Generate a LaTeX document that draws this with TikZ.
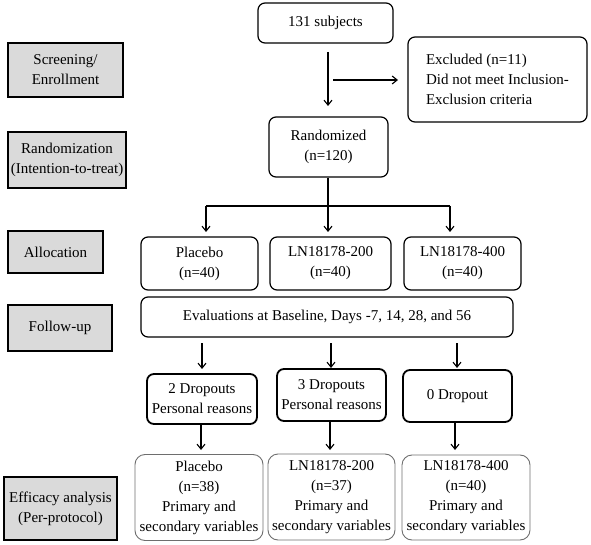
\documentclass[tikz,border=0pt]{standalone}
\usepackage{fontspec}
\setmainfont{Liberation Serif}
\usetikzlibrary{arrows.meta}
\definecolor{phasegray}{HTML}{DADADA}
\definecolor{effgray}{HTML}{6E6E6E}
\begin{document}
\begin{tikzpicture}[x=1pt,y=-1pt,
  font=\fontsize{15}{20}\selectfont,
  phase/.style={draw=black, line width=1.2pt, fill=phasegray, inner sep=0pt, align=center},
  box/.style={draw=black, rounded corners=7pt, line width=1.2pt, inner sep=0pt, align=center},
  dbox/.style={box, line width=1.8pt},
  ebox/.style={draw=effgray, rounded corners=10pt, line width=0.9pt, inner sep=0pt, align=center},
  arr/.style={-{Straight Barb[length=5pt,width=8pt]}, line width=1.1pt},
  ln/.style={line width=1.1pt}]
\useasboundingbox (0,0) rectangle (591,545);

% phase labels
\node[phase, minimum width=115pt, minimum height=54pt] (scr) at (65.5,70) {Screening/\\Enrollment};
\node[phase, minimum width=118pt, minimum height=56pt] (rphase) at (67,160) {Randomization\\(Intention-to-treat)};
\node[phase, minimum width=95pt, minimum height=42pt] (alloc) at (55.5,252) {Allocation};
\node[phase, minimum width=104pt, minimum height=46pt] (fu) at (60,328) {Follow-up};
\node[phase, minimum width=113pt, minimum height=63pt] (eff) at (60.5,508.5) {Efficacy analysis\\(Per-protocol)};

% flow boxes
\node[box, minimum width=135pt, minimum height=40pt] (s131) at (325.5,23) {131 subjects};
\node[box, minimum width=179pt, minimum height=85pt, align=left] (excl) at (497.5,79.5) {Excluded (n=11)\\Did not meet Inclusion-\\Exclusion criteria};
\node[box, minimum width=119pt, minimum height=60pt] (rnd) at (328.5,147) {Randomized\\(n=120)};

\node[box, minimum width=117pt, minimum height=53pt] (pl) at (199.5,263.5) {Placebo\\(n=40)};
\node[box, minimum width=121pt, minimum height=53pt] (l200) at (330.5,263.5) {LN18178-200\\(n=40)};
\node[box, minimum width=117pt, minimum height=53pt] (l400) at (462.5,263.5) {LN18178-400\\(n=40)};

\node[box, minimum width=372pt, minimum height=40pt] (ev) at (327,317) {Evaluations at Baseline, Days -7, 14, 28, and 56};

\node[dbox, minimum width=110pt, minimum height=50pt] (d2) at (202,399) {2 Dropouts\\Personal reasons};
\node[dbox, minimum width=109pt, minimum height=52pt] (d3) at (331.5,395) {3 Dropouts\\Personal reasons};
\node[dbox, minimum width=109pt, minimum height=52pt] (d0) at (457.5,396) {0 Dropout};

\node[ebox, minimum width=128pt, minimum height=86pt] (e1) at (199,497.5) {Placebo\\(n=38)\\Primary and\\secondary variables};
\node[ebox, minimum width=127pt, minimum height=86pt] (e2) at (331.5,497) {LN18178-200\\(n=37)\\Primary and\\secondary variables};
\node[ebox, minimum width=128pt, minimum height=85pt] (e3) at (466,497.5) {LN18178-400\\(n=40)\\Primary and\\secondary variables};

% connectors
\coordinate (a1s) at (328,52);
\coordinate (a1e) at (328,106);
\draw[arr] (a1s) -- (a1e);
\coordinate (h1s) at (333,80);
\coordinate (h1e) at (398,80);
\draw[arr] (h1s) -- (h1e);

\coordinate (br) at (328,206);
\coordinate (bl) at (206,206);
\coordinate (brr) at (450,206);
\draw[ln] (rnd.south -| br) -- (br);
\draw[ln] (bl) -- (brr);
\coordinate (t1) at (206,232);
\coordinate (t2) at (328,232);
\coordinate (t3) at (450,232);
\draw[arr] (bl) -- (t1);
\draw[arr] (br) -- (t2);
\draw[arr] (brr) -- (t3);

\coordinate (f1s) at (202,343); \coordinate (f1e) at (202,369);
\coordinate (f2s) at (331,343); \coordinate (f2e) at (331,368);
\coordinate (f3s) at (457,343); \coordinate (f3e) at (457,368);
\draw[arr] (f1s) -- (f1e);
\draw[arr] (f2s) -- (f2e);
\draw[arr] (f3s) -- (f3e);

\coordinate (g1e) at (201,450);
\coordinate (g2e) at (330,450);
\coordinate (g3e) at (455,450);
\draw[arr] (d2.south -| g1e) -- (g1e);
\draw[arr] (d3.south -| g2e) -- (g2e);
\draw[arr] (d0.south -| g3e) -- (g3e);
\end{tikzpicture}
\end{document}
